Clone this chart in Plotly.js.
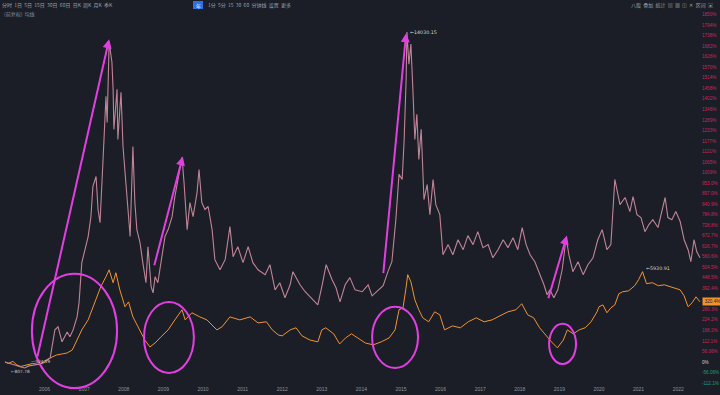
<!DOCTYPE html>
<html><head><meta charset="utf-8">
<script src="https://cdn.plot.ly/plotly-3.0.1.min.js"></script>
<style>html,body{margin:0;padding:0;background:#1b1e26;overflow:hidden}#chart{width:720px;height:395px;}</style>
</head><body><div id="chart"></div>
<script>
// Sector index (candles) – % change from start
const CANDLE_T = [2005.00,2005.10,2005.25,2005.40,2005.50,2005.60,2005.75,2005.90,2006.00,2006.14,2006.26,2006.34,2006.44,2006.57,2006.64,2006.72,2006.82,2006.87,2006.94,2007.02,2007.10,2007.17,2007.22,2007.30,2007.35,2007.40,2007.45,2007.50,2007.55,2007.58,2007.63,2007.70,2007.73,2007.75,2007.83,2007.85,2007.93,2007.98,2008.08,2008.16,2008.23,2008.28,2008.33,2008.41,2008.48,2008.56,2008.61,2008.69,2008.74,2008.79,2008.86,2008.96,2009.04,2009.12,2009.22,2009.29,2009.37,2009.47,2009.52,2009.60,2009.67,2009.75,2009.85,2009.90,2009.97,2010.05,2010.13,2010.23,2010.30,2010.43,2010.56,2010.68,2010.76,2010.88,2011.01,2011.14,2011.26,2011.39,2011.57,2011.69,2011.82,2011.94,2012.07,2012.20,2012.27,2012.45,2012.58,2012.70,2012.90,2013.01,2013.11,2013.26,2013.36,2013.46,2013.59,2013.71,2013.84,2014.02,2014.17,2014.27,2014.39,2014.55,2014.67,2014.77,2014.87,2014.95,2015.03,2015.08,2015.13,2015.15,2015.20,2015.25,2015.30,2015.35,2015.40,2015.45,2015.51,2015.58,2015.66,2015.73,2015.81,2015.88,2015.98,2016.06,2016.19,2016.31,2016.44,2016.57,2016.69,2016.82,2016.94,2017.07,2017.20,2017.32,2017.45,2017.58,2017.70,2017.83,2017.95,2018.06,2018.16,2018.26,2018.38,2018.51,2018.61,2018.69,2018.76,2018.86,2018.96,2019.07,2019.17,2019.24,2019.34,2019.47,2019.60,2019.72,2019.85,2019.97,2020.08,2020.20,2020.30,2020.40,2020.48,2020.53,2020.66,2020.78,2020.86,2020.96,2021.06,2021.16,2021.26,2021.36,2021.49,2021.62,2021.67,2021.74,2021.84,2021.94,2022.05,2022.15,2022.25,2022.32,2022.40,2022.47,2022.55];
const CANDLE_PCT = [0,-5,-16,-27,-32,-21,-16,-11,5,21,171,187,107,160,134,171,240,315,529,598,668,774,935,988,812,742,1009,1185,1415,1276,1703,1597,1452,1239,1452,1185,1436,1148,881,668,1148,849,705,635,529,422,614,401,368,454,422,561,668,705,774,881,972,1090,960,705,849,774,902,1025,849,812,828,705,545,491,545,721,561,614,529,614,529,491,465,518,384,422,342,411,481,411,374,347,304,411,518,438,395,320,411,449,384,374,411,352,374,406,481,534,758,999,972,1185,1506,1757,1586,1693,1452,1185,1319,1079,1239,865,945,785,972,838,785,571,625,571,651,598,673,625,694,609,625,555,598,651,609,662,598,716,625,571,534,465,411,358,384,342,384,491,662,571,481,534,465,518,555,651,705,598,625,972,892,838,876,801,881,785,769,694,732,758,716,822,876,769,758,801,748,651,598,534,651,587,555];

// Benchmark index (orange line) – % change from start
const BENCH_T = [2005.00,2005.08,2005.20,2005.30,2005.40,2005.55,2005.70,2005.85,2006.00,2006.14,2006.30,2006.45,2006.57,2006.70,2006.82,2006.94,2007.10,2007.27,2007.42,2007.55,2007.63,2007.73,2007.80,2007.90,2008.03,2008.12,2008.23,2008.36,2008.53,2008.66,2008.79,2008.94,2009.12,2009.29,2009.47,2009.55,2009.72,2009.92,2010.10,2010.35,2010.48,2010.68,2010.93,2011.19,2011.39,2011.60,2011.75,2011.90,2012.00,2012.20,2012.35,2012.50,2012.70,2012.90,2013.00,2013.10,2013.30,2013.45,2013.60,2013.75,2013.90,2014.10,2014.30,2014.50,2014.70,2014.85,2014.95,2015.05,2015.12,2015.17,2015.25,2015.35,2015.45,2015.55,2015.70,2015.85,2015.98,2016.10,2016.30,2016.50,2016.70,2016.90,2017.10,2017.30,2017.50,2017.70,2017.90,2018.05,2018.20,2018.35,2018.50,2018.65,2018.80,2018.95,2019.10,2019.20,2019.35,2019.50,2019.65,2019.80,2019.95,2020.00,2020.10,2020.20,2020.30,2020.40,2020.50,2020.60,2020.75,2020.90,2021.00,2021.10,2021.20,2021.35,2021.50,2021.65,2021.80,2021.95,2022.05,2022.15,2022.25,2022.35,2022.45,2022.55];
const BENCH_PCT = [0,-8,3,-16,-24,-16,-8,-13,-3,21,37,43,48,64,117,171,224,315,401,454,491,422,475,384,294,320,240,187,117,80,101,134,171,224,278,224,262,240,224,171,187,240,224,240,208,214,171,144,139,171,182,139,117,107,171,182,150,96,128,150,128,101,91,107,128,171,278,288,384,465,427,331,278,235,214,267,251,171,192,182,214,235,214,224,246,267,278,310,251,235,182,144,107,75,117,171,150,171,182,214,267,294,304,262,288,304,363,374,379,406,438,481,417,422,406,411,400,390,384,352,294,315,347,320];

const YEAR_TICKS = [2005,2006,2007,2008,2009,2010,2011,2012,2013,2014,2015,2016,2017,2018,2019,2020,2021,2022];
const YEAR_LABELS = ["2004","2006","2007","2008","2009","2010","2011","2012","2013","2014","2015","2016","2017","2018","2019","2020","2021","2022"];

const PCT_TICKS = [-112.1,-56.06,0,56.06,112.1,168.2,224.2,280.3,336.4,392.4,448.5,504.5,560.6,616.7,672.7,728.8,784.8,840.9,897.0,953.0,1009,1065,1121,1177,1233,1289,1346,1402,1458,1514,1570,1626,1682,1738,1794,1850];
const PCT_LABELS = ["-112.1%","-56.06%","0%","56.06%","112.1%","168.2%","224.2%","280.3%","336.4%","392.4%","448.5%","504.5%","560.6%","616.7%","672.7%","728.8%","784.8%","840.9%","897.0%","953.0%","1009%","1065%","1121%","1177%","1233%","1289%","1346%","1402%","1458%","1514%","1570%","1626%","1682%","1738%","1794%","1850%"];

// hand-drawn annotations (data coordinates)
const ARROW_TAIL_T = [2005.81,2008.76,2014.55,2018.71];
const ARROW_TAIL_P = [21,507,465,331];
const ARROW_HEAD_T = [2007.63,2009.49,2015.13,2019.19];
const ARROW_HEAD_P = [1719,1095,1751,673];
const RING_T0 = [2005.68,2008.51,2014.27,2018.74];
const RING_T1 = [2007.83,2009.77,2015.43,2019.42];
const RING_P0 = [-139,-59,-32,-11];
const RING_P1 = [470,320,294,203];

const MAG = '#e23fe2';
const RED = '#c8275f', GREEN = '#1f9e78', ORANGE = '#f29330';
const BG = '#1b1e26';
const PW = 701; // plot width in px

const lastBench = BENCH_PCT[BENCH_PCT.length-1];

const traces = [
  {x: BENCH_T, y: BENCH_PCT, type:'scatter', mode:'lines', line:{color:ORANGE, width:1}, hoverinfo:'skip'},
  {x: CANDLE_T, y: CANDLE_PCT, type:'scatter', mode:'lines', line:{color:'#bf8597', width:1.1}, hoverinfo:'skip'}
];

// the last-value badge hides the tick label it sits on
const tickText = PCT_TICKS.map((v,i)=>{
  if (Math.abs(v - lastBench) < 25) return '';
  const c = v>0 ? RED : (v<0 ? GREEN : '#d0d0d0');
  return '<span style="color:'+c+'">'+PCT_LABELS[i]+'</span>';
});

const shapes = RING_T0.map((t0,i)=>({type:'circle', xref:'x', yref:'y', x0:t0, x1:RING_T1[i], y0:RING_P0[i], y1:RING_P1[i], line:{color:MAG, width:2}}));
shapes.push({type:'rect', xref:'paper', yref:'paper', x0:193/PW, x1:203/PW, y0:1-9/395, y1:1-1/395, fillcolor:'#2f6fe8', line:{width:0}});

const F = '"Noto Sans CJK SC", "Noto Sans", sans-serif';
const NUMF = '"Liberation Sans", Arial, sans-serif';
const ARWF = '"DejaVu Sans", sans-serif';
const annotations = ARROW_TAIL_T.map((t,i)=>({
  x: ARROW_HEAD_T[i], y: ARROW_HEAD_P[i], ax: t, ay: ARROW_TAIL_P[i], xref:'x', yref:'y', axref:'x', ayref:'y',
  showarrow:true, arrowhead:2, arrowsize:0.9, arrowwidth:2, arrowcolor:MAG, text:''
}));
annotations.push(
  {x:CANDLE_T[109], y:CANDLE_PCT[109], xref:'x', yref:'y', text:'←14030.15', showarrow:false, xanchor:'left', yanchor:'middle', xshift:1, font:{size:4.8, color:'#d8d8d8', family:ARWF}},
  {x:BENCH_T[111], y:BENCH_PCT[111], xref:'x', yref:'y', text:'←5930.91', showarrow:false, xanchor:'left', yanchor:'middle', xshift:1, yshift:3, font:{size:4.8, color:'#d8d8d8', family:ARWF}},
  {x:BENCH_T[4], y:BENCH_PCT[4], xref:'x', yref:'y', text:'←807.78', showarrow:false, xanchor:'left', yanchor:'top', xshift:-12, yshift:-1, font:{size:4.3, color:'#c8c8c8', family:ARWF}},
  {x:CANDLE_T[3], y:CANDLE_PCT[3], xref:'x', yref:'y', text:'—534.19', showarrow:false, xanchor:'left', yanchor:'bottom', xshift:8, yshift:1, font:{size:4.3, color:'#c8c8c8', family:ARWF}},
  {x:1, y:lastBench, xref:'paper', yref:'y', text:'320.4%', showarrow:false, xanchor:'left', yanchor:'middle', xshift:1, width:17, bgcolor:ORANGE, borderpad:1, font:{size:4.6, color:'#1b1e26', family:NUMF}},
  {x:0, y:1, xref:'paper', yref:'paper', xanchor:'left', yanchor:'top', showarrow:false, yshift:1,
   text:'分时  1日  5日  15日  30日  60日  日K  周K  月K  季K', font:{size:5, color:'#9aa0aa', family:F}},
  {x:198/PW, y:1, xref:'paper', yref:'paper', xanchor:'center', yanchor:'top', showarrow:false,
   text:'年', font:{size:5, color:'#ffffff', family:F}},
  {x:206/PW, y:1, xref:'paper', yref:'paper', xanchor:'left', yanchor:'top', showarrow:false, yshift:1,
   text:'1分  5分  15  30  60  分钟线  设置  更多', font:{size:5, color:'#9aa0aa', family:F}},
  {x:2/PW, y:1-8/395, xref:'paper', yref:'paper', xanchor:'left', yanchor:'top', showarrow:false,
   text:'(前复权)  均线', font:{size:5, color:'#8a909a', family:F}},
  {x:1.02, y:1, xref:'paper', yref:'paper', xanchor:'right', yanchor:'top', showarrow:false, yshift:1,
   text:'八股  叠加  统计  ▤  ▦  ◫  ✕  区间  ▣', font:{size:5, color:'#9aa0aa', family:F}}
);

const layout = {
  width:720, height:395,
  margin:{l:0, r:19, t:0, b:0, pad:0},
  paper_bgcolor:BG, plot_bgcolor:BG,
  showlegend:false, hovermode:false,
  font:{family:F, color:'#9aa0aa'},
  xaxis:{range:[2004.874, 2022.576], tickmode:'array', tickvals:YEAR_TICKS, ticktext:YEAR_LABELS,
         ticklabelposition:'inside', ticks:'', showgrid:false, zeroline:false, showline:false,
         tickfont:{size:5, color:'#8e949e', family:NUMF}},
  yaxis:{side:'right', range:[-176, 1928], tickmode:'array', tickvals:PCT_TICKS, ticktext:tickText,
         ticks:'', ticklen:0, showgrid:false, zeroline:false, showline:false, tickfont:{size:4.6, color:RED, family:NUMF}},
  shapes:shapes, annotations:annotations
};

Plotly.newPlot('chart', traces, layout, {staticPlot:true, displayModeBar:false});
</script></body></html>
